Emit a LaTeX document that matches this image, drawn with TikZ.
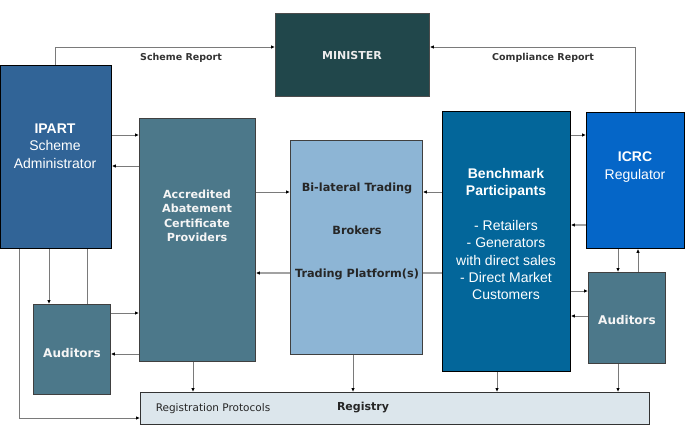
\documentclass[tikz,border=0pt]{standalone}
\usepackage{fontspec}
\setmainfont{Liberation Sans}
\newfontfamily\wideface{DejaVu Sans}
\usetikzlibrary{arrows.meta}
\definecolor{minC}{HTML}{21474B}
\definecolor{ipartC}{HTML}{316497}
\definecolor{acpC}{HTML}{4C788A}
\definecolor{bilC}{HTML}{8DB5D5}
\definecolor{benchC}{HTML}{03669A}
\definecolor{icrcC}{HTML}{0566C8}
\definecolor{regC}{HTML}{DCE6EC}
\definecolor{lineC}{HTML}{7A7A7A}
\begin{document}
\begin{tikzpicture}[x=1pt,y=-1pt,
  box/.style={rectangle, anchor=north west, inner sep=0pt, line width=0.8pt},
  conn/.style={draw=lineC, line width=0.9pt},
  thick conn/.style={draw=lineC!70, line width=1.6pt},
  arr/.style={conn, -{Latex[length=4pt,width=3.5pt,color=black]}},
  tarr/.style={thick conn, -{Latex[length=4pt,width=3.5pt,color=black]}},
  wt/.style={align=center, text=white, inner sep=0pt},
  lab/.style={inner sep=0pt, text=black!80, font=\wideface\fontsize{9.5}{11}\selectfont\bfseries}
]
\path[use as bounding box] (0,0) rectangle (698,436);

% boxes
\node[box, fill=minC, draw=gray!60!black, minimum width=154pt, minimum height=83pt] (min) at (275,13) {};
\node[box, fill=ipartC, draw=black, minimum width=111pt, minimum height=183pt] (ipart) at (0,65) {};
\node[box, fill=acpC, draw=black!75, minimum width=116pt, minimum height=243pt] (acp) at (139,118) {};
\node[box, fill=bilC, draw=black!75, minimum width=132pt, minimum height=214pt] (bil) at (290,140) {};
\node[box, fill=benchC, draw=black, minimum width=128pt, minimum height=260pt] (bench) at (442,111) {};
\node[box, fill=icrcC, draw=black, minimum width=98pt, minimum height=136pt] (icrc) at (586,112) {};
\node[box, fill=acpC, draw=black!75, minimum width=77pt, minimum height=90pt] (audL) at (33,304) {};
\node[box, fill=acpC, draw=black!75, minimum width=77pt, minimum height=91pt] (audR) at (588,272) {};
\node[box, fill=regC, draw=black!80, minimum width=509pt, minimum height=32pt] (reg) at (140,392) {};

% texts
\node[inner sep=0pt, text=white!85!gray, font=\wideface\fontsize{11}{13}\selectfont\bfseries] (minT) at (352,55) {MINISTER};
\node[wt, font=\fontsize{14}{17.5}\selectfont] (ipartT) at (55,146) {\textbf{IPART}\\Scheme\\Administrator};
\node[wt, text=white!92!gray, font=\wideface\fontsize{11.2}{14.5}\selectfont\bfseries] (acpT) at (197,216) {Accredited\\Abatement\\Certificate\\Providers};
\node[inner sep=0pt, text=black!85, font=\wideface\fontsize{11.3}{13}\selectfont\bfseries] (bilT1) at (357,188) {Bi-lateral Trading};
\node[inner sep=0pt, text=black!85, font=\wideface\fontsize{11.3}{13}\selectfont\bfseries] (bilT2) at (357,230) {Brokers};
\node[inner sep=0pt, text=black!85, font=\wideface\fontsize{11.3}{13}\selectfont\bfseries] (bilT3) at (357,274) {Trading Platform(s)};
\node[wt, font=\fontsize{14}{17.4}\selectfont] (benchT) at (506,234) {\textbf{Benchmark}\\\textbf{Participants}\\\mbox{}\\- Retailers\\- Generators\\with direct sales\\- Direct Market\\Customers};
\node[wt, font=\fontsize{14}{18}\selectfont] (icrcT) at (635,167) {\textbf{ICRC}\\Regulator};
\node[wt, text=white!92!gray, font=\wideface\fontsize{12}{14}\selectfont\bfseries] (audLT) at (72,353) {Auditors};
\node[wt, text=white!92!gray, font=\wideface\fontsize{12}{14}\selectfont\bfseries] (audRT) at (627,320) {Auditors};
\node[inner sep=0pt, text=black!85, font=\wideface\fontsize{10.5}{12}\selectfont] (regT1) at (213,409) {Registration Protocols};
\node[inner sep=0pt, text=black!85, font=\wideface\fontsize{11}{13}\selectfont\bfseries] (regT2) at (363,408) {Registry};
\node[lab] (srT) at (181,58) {Scheme Report};
\node[lab] (crT) at (543,58) {Compliance Report};

% connectors
\draw[arr] (ipart.north) |- (min.west |- 0,47);
\draw[arr] (icrc.north) |- (min.east |- 0,47);
\draw[arr] (ipart.east |- 0,135) -- (acp.west |- 0,135);
\draw[arr] (acp.west |- 0,166) -- (ipart.east |- 0,166);
\draw[arr] (acp.east |- 0,192) -- (bil.west |- 0,192);
\draw[arr] (bench.west |- 0,192) -- (bil.east |- 0,192);
\draw[thick conn] (bench.west |- 0,273) -- (bil.east |- 0,273);
\draw[tarr] (bil.west |- 0,273) -- (acp.east |- 0,273);
\draw[arr] (bench.east |- 0,135) -- (icrc.west |- 0,135);
\draw[tarr] (icrc.west |- 0,225) -- (bench.east |- 0,225);
\draw[arr] (618,0 |- icrc.south) -- (618,0 |- audR.north);
\draw[arr] (638,0 |- audR.north) -- (638,0 |- icrc.south);
\draw[arr] (bench.east |- 0,291) -- (audR.west |- 0,291);
\draw[arr] (audR.west |- 0,316) -- (bench.east |- 0,316);
\draw[arr] (49,0 |- ipart.south) -- (49,0 |- audL.north);
\draw[conn] (87,0 |- audL.north) -- (87,0 |- ipart.south);
\draw[arr] (audL.east |- 0,313) -- (acp.west |- 0,313);
\draw[arr] (acp.west |- 0,354) -- (audL.east |- 0,354);
\draw[arr] (19,0 |- ipart.south) |- (reg.west |- 0,418);
\draw[arr] (193,0 |- acp.south) -- (193,0 |- reg.north);
\draw[arr] (353,0 |- bil.south) -- (353,0 |- reg.north);
\draw[arr] (497,0 |- bench.south) -- (497,0 |- reg.north);
\draw[arr] (618,0 |- audR.south) -- (618,0 |- reg.north);
\end{tikzpicture}
\end{document}
